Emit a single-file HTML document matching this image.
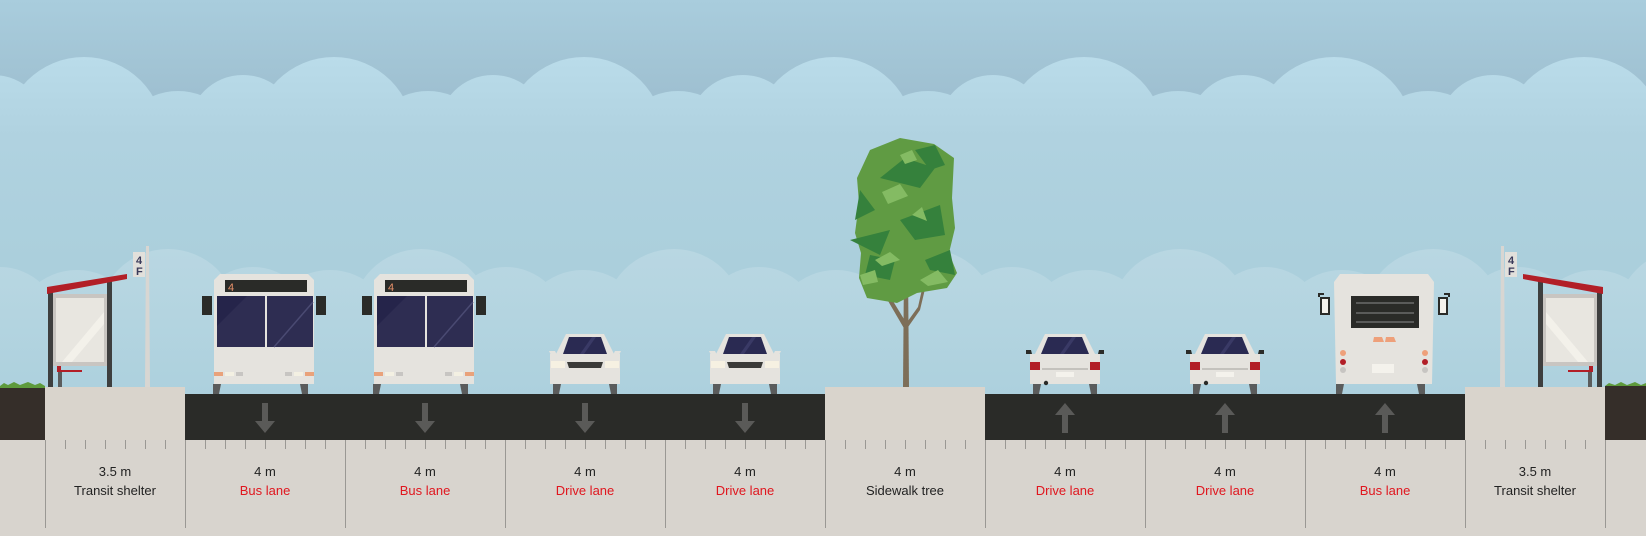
<!DOCTYPE html>
<html><head><meta charset="utf-8"><style>
html,body{margin:0;padding:0;width:1646px;height:536px;overflow:hidden;background:#d8d4ce}
svg{display:block}
text{font-family:"Liberation Sans",sans-serif}
</style></head><body>
<svg width="1646" height="536" viewBox="0 0 1646 536" xmlns="http://www.w3.org/2000/svg">
<defs>
<linearGradient id="sky" gradientUnits="userSpaceOnUse" x1="0" y1="0" x2="0" y2="100">
<stop offset="0" stop-color="#a9cddd"/><stop offset="1" stop-color="#9ebfd0"/></linearGradient>
<linearGradient id="cl1" gradientUnits="userSpaceOnUse" x1="0" y1="55" x2="0" y2="260">
<stop offset="0" stop-color="#badcea"/><stop offset="0.4" stop-color="#b0d2e0"/><stop offset="1" stop-color="#abcfdc"/></linearGradient>
<linearGradient id="cl2" gradientUnits="userSpaceOnUse" x1="0" y1="248" x2="0" y2="400">
<stop offset="0" stop-color="#b9d7e2"/><stop offset="0.5" stop-color="#b3d4e0"/><stop offset="1" stop-color="#acd0dd"/></linearGradient>
<pattern id="up" x="0" y="0" width="250" height="300" patternUnits="userSpaceOnUse">
<circle cx="84" cy="137" r="80" fill="url(#cl1)"/>
<circle cx="178" cy="155" r="64" fill="url(#cl1)"/>
<circle cx="243" cy="130" r="55" fill="url(#cl1)"/>
<circle cx="-7" cy="130" r="55" fill="url(#cl1)"/>
</pattern>
<pattern id="low" x="0" y="0" width="253" height="400" patternUnits="userSpaceOnUse">
<circle cx="0" cy="327" r="60" fill="url(#cl2)"/>
<circle cx="253" cy="327" r="60" fill="url(#cl2)"/>
<circle cx="77" cy="335" r="65" fill="url(#cl2)"/>
<circle cx="168" cy="319" r="70" fill="url(#cl2)"/>
</pattern>
<g id="busF">
<path d="M8,292 h-6 v4" stroke="#2a2b28" stroke-width="2" fill="none"/>
<rect x="-12" y="296" width="10" height="19" fill="#2a2b28"/>
<path d="M92,292 h6 v4" stroke="#2a2b28" stroke-width="2" fill="none"/>
<rect x="102" y="296" width="10" height="19" fill="#2a2b28"/>
<path d="M-1,384 h8 l-2,10 h-6z M86,384 h8 v10 h-6z" fill="#5b5c5c"/>
<path d="M6,274 h88 l6,6 v104 h-100 v-104z" fill="#e5e3de"/>
<rect x="11" y="280" width="82" height="12" fill="#2a2b28"/>
<text x="14" y="291" font-size="11" fill="#e8916a" font-family="Liberation Mono,monospace">4</text>
<rect x="3" y="296" width="48" height="51" fill="#2e2d52"/>
<rect x="53" y="296" width="46" height="51" fill="#2e2d52"/>
<path d="M3,296 h30 l-30,30z" fill="#25244a"/>
<path d="M60,347 l39,-45" stroke="#4a4a72" stroke-width="1.5"/>
<rect x="0" y="372" width="9" height="4" fill="#e9a27a"/>
<rect x="11" y="372" width="9" height="4" fill="#f3f0e2"/>
<rect x="22" y="372" width="7" height="4" fill="#c7c5c2"/>
<rect x="71" y="372" width="7" height="4" fill="#c7c5c2"/>
<rect x="80" y="372" width="9" height="4" fill="#f3f0e2"/>
<rect x="91" y="372" width="9" height="4" fill="#e9a27a"/>
</g>
<g id="carF">
<path d="M3,384 h8 l-2,10 h-6z M59,384 h8 v10 h-6z" fill="#5b5c5c"/>
<path d="M16,334 h38 l10,20 h6 v30 h-70 v-30 h6z" fill="#e5e3de"/>
<path d="M-1,351 h6 l2,4 h-6z M71,351 h-6 l-2,4 h6z" fill="#e5e3de"/>
<path d="M19,337 h32 l6,17 h-44z" fill="#2a2a52"/>
<path d="M30,354 l12,-17 h4 l-12,17z" fill="#3a3a66"/>
<rect x="1" y="361" width="14" height="7" fill="#f6f1e2"/>
<rect x="55" y="361" width="14" height="7" fill="#f6f1e2"/>
<path d="M17,362 h36 l-2,6 h-32z" fill="#3a3a38"/>
</g>
<g id="carB">
<path d="M3,384 h8 l-2,10 h-6z M59,384 h8 v10 h-6z" fill="#5b5c5c"/>
<path d="M15,334 h40 l10,20 h5 v30 h-70 v-30 h5z" fill="#e5e3de"/>
<path d="M-4,350 h5 l1,4 h-6z M74,350 h-5 l-1,4 h6z" fill="#2a2b28"/>
<path d="M18,337 h34 l7,17 h-48z" fill="#2a2a52"/>
<path d="M30,354 l12,-17 h4 l-12,17z" fill="#3a3a66"/>
<rect x="0" y="362" width="10" height="8" fill="#b21f27"/>
<rect x="60" y="362" width="10" height="8" fill="#b21f27"/>
<rect x="12" y="368" width="46" height="2" fill="#c4c2bd"/>
<rect x="26" y="372" width="18" height="5" fill="#f4f2ec"/>
<circle cx="16" cy="383" r="2.2" fill="#2a2b28"/>
</g>
<g id="shelter">
<rect x="48" y="290" width="5" height="97" fill="#3e3f3f"/>
<rect x="107" y="280" width="5" height="107" fill="#3e3f3f"/>
<rect x="53" y="294" width="54" height="72" fill="#c8c5c1"/>
<rect x="56" y="298" width="48" height="64" fill="#e8e6e0"/>
<path d="M62,362 l42,-50 v12 l-32,38z" fill="#f3f1ea"/>
<path d="M47,287 L127,274 L127,279 L47,294z" fill="#b21f27"/>
<path d="M57,366 h4 v4 h21 v2 h-25z" fill="#b21f27"/>
<rect x="58" y="372" width="4" height="15" fill="#5b5c5c"/>
<path d="M146,246 h3 l1,141 h-5z" fill="#d8d6d2"/>
<rect x="133" y="252" width="12" height="25" fill="#e2e0db"/>
</g>
<path id="arrDown" d="M-3,0 h6 v18 h7 l-10,12 l-10,-12 h7z" fill="#5a5a58"/>
</defs>
<rect x="0" y="0" width="1646" height="440" fill="url(#sky)"/>
<rect x="0" y="0" width="1646" height="300" fill="url(#up)"/>
<rect x="0" y="150" width="1646" height="250" fill="url(#cl1)"/>
<rect x="0" y="0" width="1646" height="400" fill="url(#low)"/>
<rect x="0" y="318" width="1646" height="82" fill="url(#cl2)"/>

<!-- ground -->
<rect x="0" y="386" width="45" height="54" fill="#352e29"/>
<rect x="1605" y="386" width="41" height="54" fill="#352e29"/>
<path d="M0,386 l4,-3 l4,2 l6,-3 l6,3 l8,-3 l7,3 l5,-2 l5,3 v2 h-45z" fill="#5e9a3c"/>
<path d="M1605,386 l4,-3 l6,2 l6,-3 l6,3 l8,-3 l6,3 l5,-2 v3z" fill="#5e9a3c"/>
<rect x="45" y="387" width="140" height="53" fill="#d9d4cc"/>
<rect x="1465" y="387" width="140" height="53" fill="#d9d4cc"/>
<rect x="825" y="387" width="160" height="53" fill="#d9d4cc"/>
<rect x="185" y="394" width="640" height="46" fill="#2a2b28"/>
<rect x="985" y="394" width="480" height="46" fill="#2a2b28"/>

<!-- shelters -->
<use href="#shelter"/>
<use href="#shelter" transform="translate(1650,0) scale(-1,1)"/>
<text x="136" y="264" font-size="11" fill="#3a3a5a" font-family="Liberation Mono,monospace" font-weight="bold">4</text>
<text x="136" y="275" font-size="11" fill="#3a3a5a" font-family="Liberation Mono,monospace" font-weight="bold">F</text>
<text x="1508" y="264" font-size="11" fill="#3a3a5a" font-family="Liberation Mono,monospace" font-weight="bold">4</text>
<text x="1508" y="275" font-size="11" fill="#3a3a5a" font-family="Liberation Mono,monospace" font-weight="bold">F</text>

<!-- vehicles -->
<use href="#busF" transform="translate(214,0)"/>
<use href="#busF" transform="translate(374,0)"/>
<use href="#carF" transform="translate(550,0)"/>
<use href="#carF" transform="translate(710,0)"/>
<use href="#carB" transform="translate(1030,0)"/>
<use href="#carB" transform="translate(1190,0)"/>

<!-- back bus -->
<g transform="translate(1334,0)">
<path d="M-10,294 h-5 v3 M110,294 h5 v3" stroke="#2a2b28" stroke-width="2" fill="none"/>
<rect x="-13" y="298" width="8" height="16" fill="#f4f2ec" stroke="#2a2b28" stroke-width="2"/>
<rect x="105" y="298" width="8" height="16" fill="#f4f2ec" stroke="#2a2b28" stroke-width="2"/>
<path d="M2,384 h8 l-2,10 h-6z M83,384 h8 v10 h-6z" fill="#5b5c5c"/>
<path d="M6,274 h88 l6,8 l-2,102 h-96 l-2,-102z" fill="#e5e3de"/>
<rect x="17" y="296" width="68" height="32" fill="#2a2b28"/>
<rect x="22" y="302" width="58" height="2" fill="#5a5b5a"/>
<rect x="22" y="312" width="58" height="2" fill="#5a5b5a"/>
<rect x="22" y="321" width="58" height="2" fill="#5a5b5a"/>
<path d="M40,337 h8 l2,5 h-11z M52,337 h8 l2,5 h-11z" fill="#eea07a"/>
<circle cx="9" cy="353" r="3" fill="#eea07a"/><circle cx="9" cy="362" r="3" fill="#b21f27"/><circle cx="9" cy="370" r="3" fill="#c7c5c2"/>
<circle cx="91" cy="353" r="3" fill="#eea07a"/><circle cx="91" cy="362" r="3" fill="#b21f27"/><circle cx="91" cy="370" r="3" fill="#c7c5c2"/>
<rect x="38" y="364" width="22" height="9" fill="#f4f2ec"/>
</g>

<!-- tree -->
<g>
<path d="M903,387 l1,-120 h4 l1,120z" fill="#7d6e58"/>
<path d="M905,330 l-28,-48 l3,-2 l27,44z" fill="#7d6e58"/>
<path d="M905,325 l13,-18 l9,-40 l3,1 l-10,42 l-14,20z" fill="#7d6e58"/>
<path d="M870,150 l30,-12 l34,6 l20,14 l-2,40 l3,30 l-6,25 l8,20 l-10,15 l-30,5 l-20,10 l-30,-5 l-8,-20 l2,-25 l-6,-20 l4,-30 l-2,-25z" fill="#609b43"/>
<path d="M880,178 l25,-20 l30,10 l-15,20 z M850,240 l40,-10 l-10,25z M900,220 l40,-15 l5,30 l-30,5z M860,190 l15,20 l-20,10z M925,260 l25,-10 l5,25 l-25,-5z M870,255 l25,5 l-5,20 l-25,-5z M915,150 l20,-5 l10,20 l-15,5z" fill="#35813c"/>
<path d="M882,192 l18,-8 l8,12 l-20,8z M875,260 l15,-8 l10,8 l-18,6z M912,215 l10,-8 l5,14z M920,280 l18,-10 l10,12 l-20,4z M860,275 l15,-5 l3,12 l-15,3z M900,155 l12,-5 l5,10 l-12,4z" fill="#84bb63"/>
</g>

<!-- arrows -->
<use href="#arrDown" transform="translate(265,403)"/>
<use href="#arrDown" transform="translate(425,403)"/>
<use href="#arrDown" transform="translate(585,403)"/>
<use href="#arrDown" transform="translate(745,403)"/>
<use href="#arrDown" transform="translate(1065,433) scale(1,-1)"/>
<use href="#arrDown" transform="translate(1225,433) scale(1,-1)"/>
<use href="#arrDown" transform="translate(1385,433) scale(1,-1)"/>

<!-- ticks and dividers -->
<g stroke="#9a9894" stroke-width="1">
<path d="M45.5,440 V528 M185.5,440 V528 M345.5,440 V528 M505.5,440 V528 M665.5,440 V528 M825.5,440 V528 M985.5,440 V528 M1145.5,440 V528 M1305.5,440 V528 M1465.5,440 V528 M1605.5,440 V528"/>
<path d="M65.5,440v9M85.5,440v9M105.5,440v9M125.5,440v9M145.5,440v9M165.5,440v9
M205.5,440v9M225.5,440v9M245.5,440v9M265.5,440v9M285.5,440v9M305.5,440v9M325.5,440v9
M365.5,440v9M385.5,440v9M405.5,440v9M425.5,440v9M445.5,440v9M465.5,440v9M485.5,440v9
M525.5,440v9M545.5,440v9M565.5,440v9M585.5,440v9M605.5,440v9M625.5,440v9M645.5,440v9
M685.5,440v9M705.5,440v9M725.5,440v9M745.5,440v9M765.5,440v9M785.5,440v9M805.5,440v9
M845.5,440v9M865.5,440v9M885.5,440v9M905.5,440v9M925.5,440v9M945.5,440v9M965.5,440v9
M1005.5,440v9M1025.5,440v9M1045.5,440v9M1065.5,440v9M1085.5,440v9M1105.5,440v9M1125.5,440v9
M1165.5,440v9M1185.5,440v9M1205.5,440v9M1225.5,440v9M1245.5,440v9M1265.5,440v9M1285.5,440v9
M1325.5,440v9M1345.5,440v9M1365.5,440v9M1385.5,440v9M1405.5,440v9M1425.5,440v9M1445.5,440v9
M1485.5,440v9M1505.5,440v9M1525.5,440v9M1545.5,440v9M1565.5,440v9M1585.5,440v9"/>
</g>

<!-- labels -->
<g font-size="13" text-anchor="middle">
<text x="115" y="476" fill="#222">3.5 m</text><text x="115" y="495" fill="#222">Transit shelter</text>
<text x="265" y="476" fill="#222">4 m</text><text x="265" y="495" fill="#e0161e">Bus lane</text>
<text x="425" y="476" fill="#222">4 m</text><text x="425" y="495" fill="#e0161e">Bus lane</text>
<text x="585" y="476" fill="#222">4 m</text><text x="585" y="495" fill="#e0161e">Drive lane</text>
<text x="745" y="476" fill="#222">4 m</text><text x="745" y="495" fill="#e0161e">Drive lane</text>
<text x="905" y="476" fill="#222">4 m</text><text x="905" y="495" fill="#222">Sidewalk tree</text>
<text x="1065" y="476" fill="#222">4 m</text><text x="1065" y="495" fill="#e0161e">Drive lane</text>
<text x="1225" y="476" fill="#222">4 m</text><text x="1225" y="495" fill="#e0161e">Drive lane</text>
<text x="1385" y="476" fill="#222">4 m</text><text x="1385" y="495" fill="#e0161e">Bus lane</text>
<text x="1535" y="476" fill="#222">3.5 m</text><text x="1535" y="495" fill="#222">Transit shelter</text>
</g>
</svg>
</body></html>
